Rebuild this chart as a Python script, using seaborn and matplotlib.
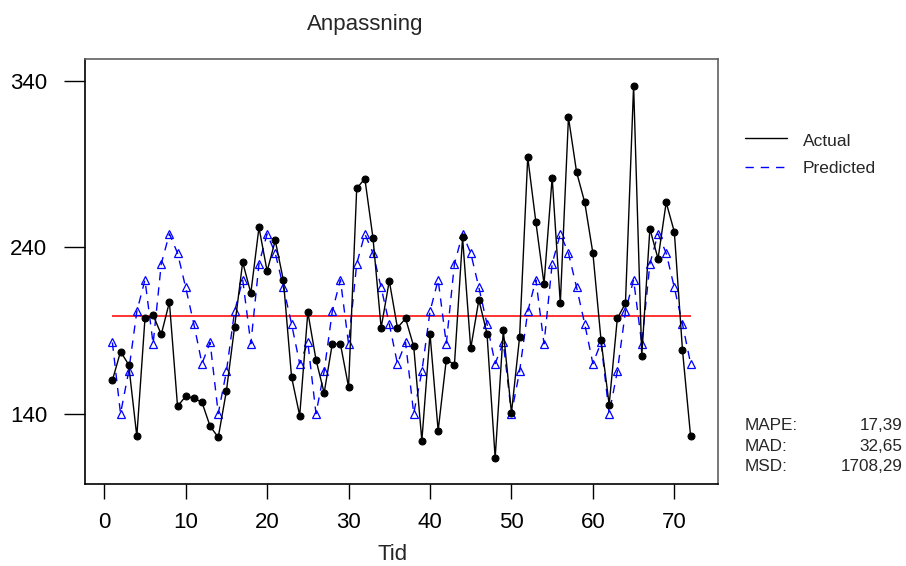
import matplotlib

matplotlib.use("Agg")
import matplotlib.pyplot as plt
from matplotlib.lines import Line2D
import pandas as pd
import seaborn as sns

# --- data ---
periods = list(range(1, 73))
actual = [
    160.2, 177.4, 169.6, 126.6, 197.3, 199.3, 187.7, 207.1, 144.6, 150.6, 149.4, 147.0,
    132.6, 126.0, 153.8, 192.1, 231.1, 212.5, 251.9, 225.7, 244.1, 220.1, 162.2, 139.0,
    201.1, 172.6, 152.6, 182.0, 182.0, 156.2, 275.3, 281.2, 245.5, 191.7, 219.9, 191.7,
    197.3, 180.5, 124.0, 188.1, 130.0, 172.6, 169.6, 245.9, 179.3, 208.5, 188.1, 113.6,
    190.1, 140.6, 186.1, 294.1, 255.1, 218.1, 281.8, 206.3, 318.0, 285.1, 266.9, 236.5,
    184.3, 145.6, 197.3, 206.4, 337.0, 174.9, 251.1, 233.1, 266.9, 249.3, 178.4, 126.6,
]
predicted = [
    182.9, 140.2, 165.5, 201.5, 220.5, 182.1, 230.1, 248.1, 236.5, 215.9, 194.0, 170.2,
    182.9, 140.2, 165.5, 201.5, 220.5, 182.1, 230.1, 248.1, 236.5, 215.9, 194.0, 170.2,
    182.9, 140.2, 165.5, 201.5, 220.5, 182.1, 230.1, 248.1, 236.5, 215.9, 194.0, 170.2,
    182.9, 140.2, 165.5, 201.5, 220.5, 182.1, 230.1, 248.1, 236.5, 215.9, 194.0, 170.2,
    182.9, 140.2, 165.5, 201.5, 220.5, 182.1, 230.1, 248.1, 236.5, 215.9, 194.0, 170.2,
    182.9, 140.2, 165.5, 201.5, 220.5, 182.1, 230.1, 248.1, 236.5, 215.9, 194.0, 170.2,
]
trend_level = 198.5
x_ticks = [0, 10, 20, 30, 40, 50, 60, 70]
y_ticks = [140, 240, 340]
stat_names = ["MAPE:", "MAD:", "MSD:"]
stat_values = ["17,39", "32,65", "1708,29"]

BLUE = "#0000FF"
RED = "#FF3333"

sns.set_theme(style="ticks")
plt.rcParams["font.family"] = ["Liberation Sans", "DejaVu Sans"]

W, H = 906, 566
fig = plt.figure(figsize=(W / 100, H / 100), dpi=100, facecolor="white")
ax = fig.add_axes([84.7 / W, 1 - 484.3 / H, (718.3 - 84.7) / W, (484.3 - 59.3) / H])

df = pd.DataFrame({"Tid": periods, "Actual": actual, "Predicted": predicted})

ax.hlines(trend_level, periods[0], periods[-1], color=RED, lw=1.4, zorder=1.5)
sns.lineplot(
    data=df, x="Tid", y="Actual", ax=ax, color="black", lw=1.0,
    marker="o", markersize=5.0, markerfacecolor="black",
    markeredgecolor="black", zorder=3,
)
sns.lineplot(
    data=df, x="Tid", y="Predicted", ax=ax, color=BLUE, lw=1.0,
    linestyle=(0, (6, 5)), marker="^", markersize=6.0,
    markerfacecolor="none", markeredgecolor=BLUE, markeredgewidth=0.9, zorder=2.5,
)

ax.set_xlim(-2.4, 75.4)
ax.set_ylim(97.8, 352.8)
ax.set_xticks(x_ticks)
ax.set_yticks(y_ticks)
ax.set_xlabel("")
ax.set_ylabel("")
ax.tick_params(axis="y", length=15, width=1, pad=12, labelsize=16, color="black", labelcolor="black")
ax.tick_params(axis="x", length=11, width=1, pad=9, labelsize=16, color="black", labelcolor="black")
for side in ("left", "bottom"):
    ax.spines[side].set_color("black")
    ax.spines[side].set_linewidth(1.2)
for side in ("top", "right"):
    ax.spines[side].set_visible(True)
    ax.spines[side].set_color("#606060")
    ax.spines[side].set_linewidth(1.2)
ax.grid(False)
if ax.get_legend():
    ax.get_legend().remove()

fig.text(365 / W, 1 - 30 / H, "Anpassning", ha="center", va="baseline", fontsize=16)
fig.text(392.5 / W, 1 - 560 / H, "Tid", ha="center", va="baseline", fontsize=16)

# legend at the right
fig.add_artist(Line2D([745 / W, 787 / W], [1 - 138.3 / H] * 2, color="black", lw=1.0))
fig.add_artist(Line2D([745 / W, 787 / W], [1 - 166.7 / H] * 2, color=BLUE, lw=1.0,
                      linestyle=(0, (6, 5))))
fig.text(802.7 / W, 1 - 146 / H, "Actual", ha="left", va="baseline", fontsize=12.5)
fig.text(802.7 / W, 1 - 173.3 / H, "Predicted", ha="left", va="baseline", fontsize=12.5)

# accuracy measures
for i, (name, value) in enumerate(zip(stat_names, stat_values)):
    yb = 1 - (430 + 20.7 * i) / H
    fig.text(745 / W, yb, name, ha="left", va="baseline", fontsize=12.3)
    fig.text(902.7 / W, yb, value, ha="right", va="baseline", fontsize=12.3)

fig.savefig("out.png", dpi=100, facecolor="white")
